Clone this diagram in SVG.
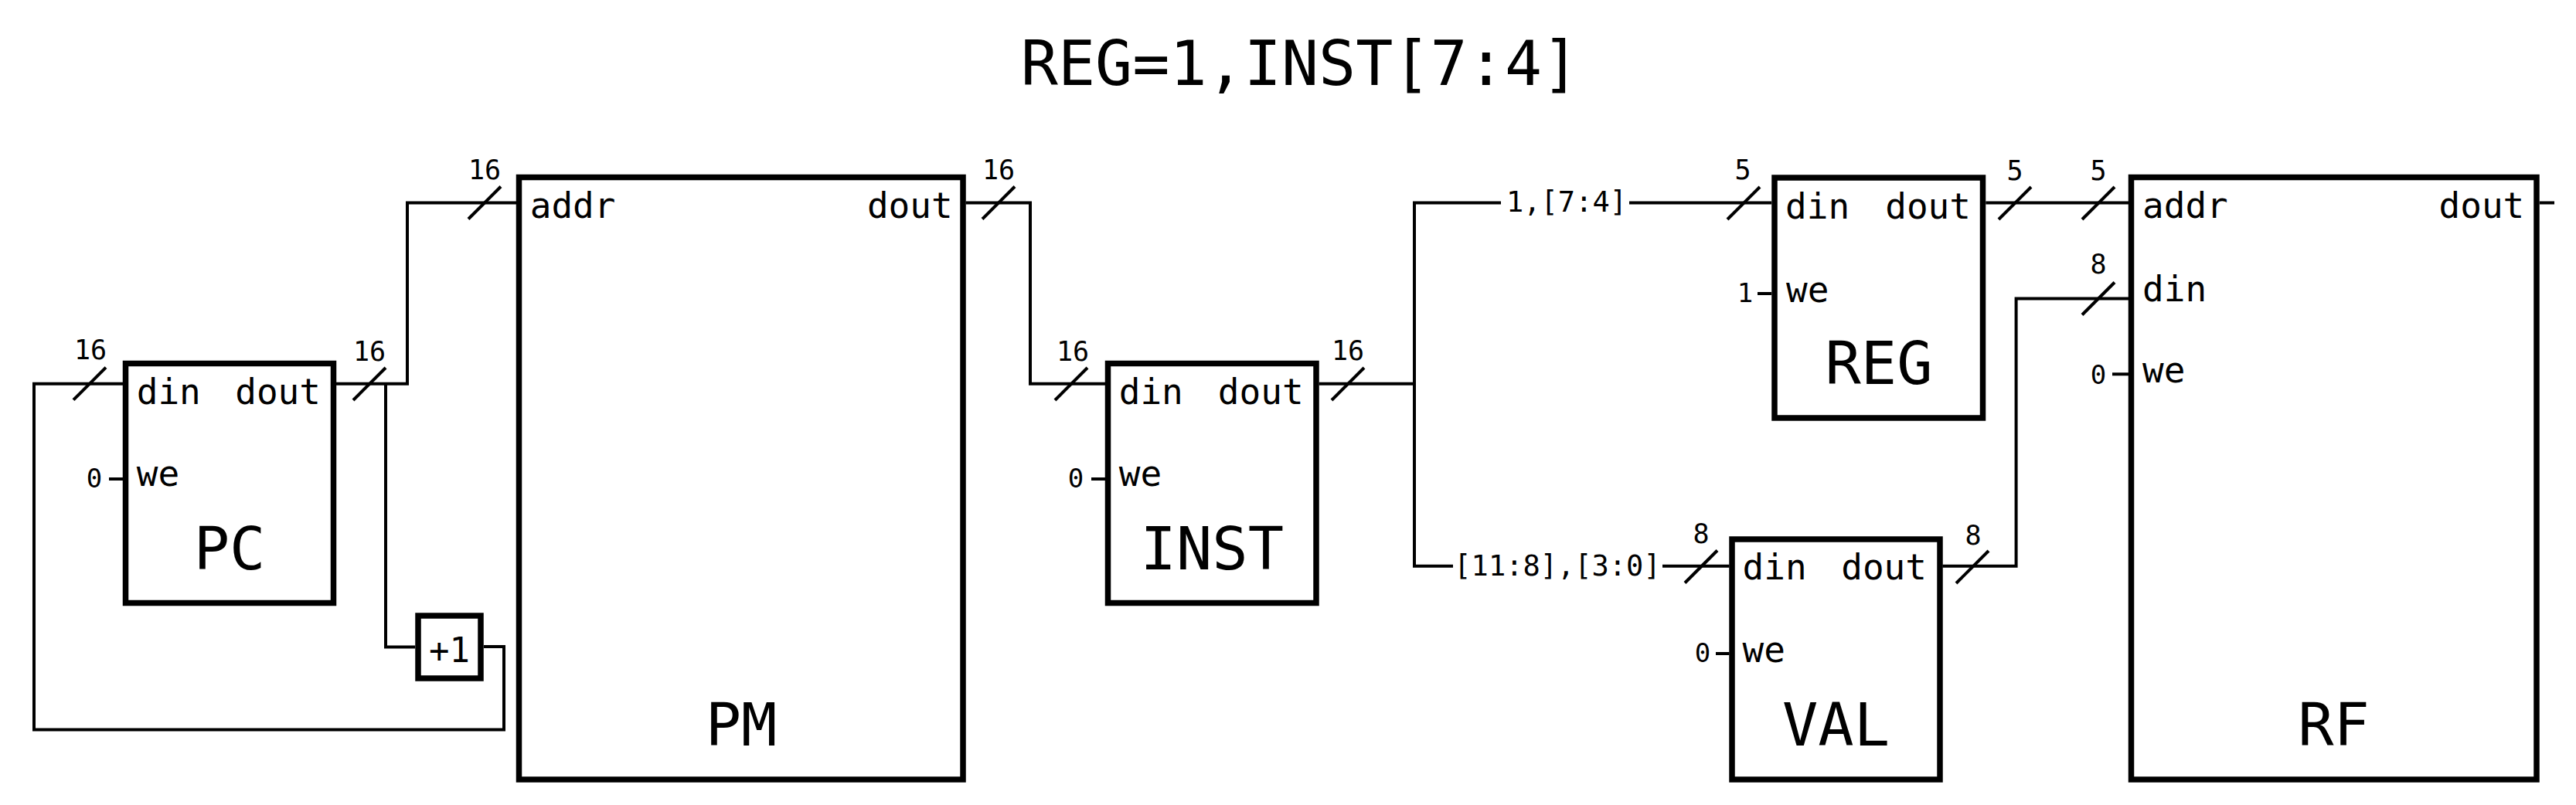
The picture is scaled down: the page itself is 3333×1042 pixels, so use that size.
<svg xmlns="http://www.w3.org/2000/svg" width="3333" height="1042" viewBox="0 0 3333 1042">
<style>
text{font-family:"DejaVu Sans Mono","Liberation Mono",monospace;fill:#000}
.box{fill:#fff;stroke:#000;stroke-width:7.5}
.w{fill:none;stroke:#000;stroke-width:4}
.port{font-size:46px}
.name{font-size:77px;text-anchor:middle}
.bw{font-size:35px;text-anchor:middle}
.k{font-size:34px;text-anchor:middle}
.rng{font-size:37px;text-anchor:middle}
.end{text-anchor:end}
</style>
<defs>
<path id="slash" d="M-21,21 L21,-21" fill="none" stroke="#000" stroke-width="4"/>
</defs>
<rect width="3333" height="1042" fill="#fff"/>
<text x="1682" y="110" font-size="80" text-anchor="middle">REG=1,INST[7:4]</text>

<g id="connectors">
<polyline class="w" points="626,837 652,837 652,944.5 44,944.5 44,496.7 159,496.7"/>
<polyline class="w" points="435,496.7 527,496.7 527,262.5 668,262.5"/>
<polyline class="w" points="499,496.7 499,837.5 537,837.5"/>
<polyline class="w" points="1249.5,262.5 1333,262.5 1333,496.7 1430,496.7"/>
<polyline class="w" points="1706.7,496.7 1830,496.7"/>
<polyline class="w" points="1942,262.5 1830,262.5 1830,732.7 1880,732.7"/>
<polyline class="w" points="2108,262.5 2292,262.5"/>
<polyline class="w" points="2151,732.7 2237.5,732.7"/>
<polyline class="w" points="2569.3,262.5 2754,262.5"/>
<polyline class="w" points="2513.4,732.7 2608.6,732.7 2608.6,386.5 2754,386.5"/>
<polyline class="w" points="3286,262.5 3305,262.5"/>
<line class="w" x1="141" y1="620" x2="159" y2="620"/>
<line class="w" x1="1412" y1="620" x2="1430" y2="620"/>
<line class="w" x1="2274" y1="380" x2="2292" y2="380"/>
<line class="w" x1="2220" y1="846" x2="2237.5" y2="846"/>
<line class="w" x1="2733" y1="484.3" x2="2754" y2="484.3"/>
<use href="#slash" x="116" y="496.7"/>
<use href="#slash" x="478" y="497"/>
<use href="#slash" x="627" y="262.5"/>
<use href="#slash" x="1292" y="262.5"/>
<use href="#slash" x="1386" y="497"/>
<use href="#slash" x="1744" y="497"/>
<use href="#slash" x="2256" y="263"/>
<use href="#slash" x="2201" y="733.5"/>
<use href="#slash" x="2607" y="263"/>
<use href="#slash" x="2715" y="263"/>
<use href="#slash" x="2552" y="734"/>
<use href="#slash" x="2715" y="386.5"/>
<text class="bw" x="117" y="465">16</text>
<text class="bw" x="478" y="466.5">16</text>
<text class="bw" x="627" y="231.5">16</text>
<text class="bw" x="1292" y="231.5">16</text>
<text class="bw" x="1388" y="467">16</text>
<text class="bw" x="1744" y="465.5">16</text>
<text class="bw" x="2255" y="232">5</text>
<text class="bw" x="2201" y="702.5">8</text>
<text class="bw" x="2607" y="233">5</text>
<text class="bw" x="2715" y="233">5</text>
<text class="bw" x="2553" y="705">8</text>
<text class="bw" x="2715" y="354">8</text>
<text class="rng" x="2027" y="273.5">1,[7:4]</text>
<text class="rng" x="2015" y="745">[11:8],[3:0]</text>
<text class="k" x="122" y="631">0</text>
<text class="k" x="1392" y="631">0</text>
<text class="k" x="2258" y="391">1</text>
<text class="k" x="2203" y="857">0</text>
<text class="k" x="2715" y="497">0</text>
</g>

<g id="PC">
<rect class="box" x="162.5" y="470.5" width="269" height="310"/>
<text class="port" x="176.7" y="523.3">din</text>
<text class="port end" x="415" y="523.3">dout</text>
<text class="port" x="176.7" y="629.3">we</text>
<text class="name" x="297" y="736.7">PC</text>
</g>

<g id="INC">
<rect class="box" x="541" y="797" width="81" height="81"/>
<text x="581.5" y="857" font-size="44" text-anchor="middle">+1</text>
</g>

<g id="PM">
<rect class="box" x="671.5" y="229.5" width="574.5" height="779.5"/>
<text class="port" x="685.7" y="282">addr</text>
<text class="port end" x="1232.7" y="282">dout</text>
<text class="name" x="959" y="964.5">PM</text>
</g>

<g id="INST">
<rect class="box" x="1433.5" y="470.5" width="269.5" height="310"/>
<text class="port" x="1447.7" y="523.3">din</text>
<text class="port end" x="1686.6" y="523.3">dout</text>
<text class="port" x="1447.7" y="629.3">we</text>
<text class="name" x="1568.3" y="736.7">INST</text>
</g>

<g id="REG">
<rect class="box" x="2296" y="230" width="269.5" height="311"/>
<text class="port" x="2310" y="283.3">din</text>
<text class="port end" x="2550" y="283.3">dout</text>
<text class="port" x="2311" y="390.7">we</text>
<text class="name" x="2431" y="497.3">REG</text>
</g>

<g id="VAL">
<rect class="box" x="2241" y="698" width="269" height="311"/>
<text class="port" x="2254.5" y="750">din</text>
<text class="port end" x="2493" y="750">dout</text>
<text class="port" x="2254.5" y="856.7">we</text>
<text class="name" x="2375.5" y="965">VAL</text>
</g>

<g id="RF">
<rect class="box" x="2757.5" y="229.5" width="524.5" height="779.5"/>
<text class="port" x="2772" y="281.7">addr</text>
<text class="port end" x="3266.3" y="281.7">dout</text>
<text class="port" x="2772" y="390">din</text>
<text class="port" x="2772" y="495">we</text>
<text class="name" x="3019.5" y="965">RF</text>
</g>
</svg>
